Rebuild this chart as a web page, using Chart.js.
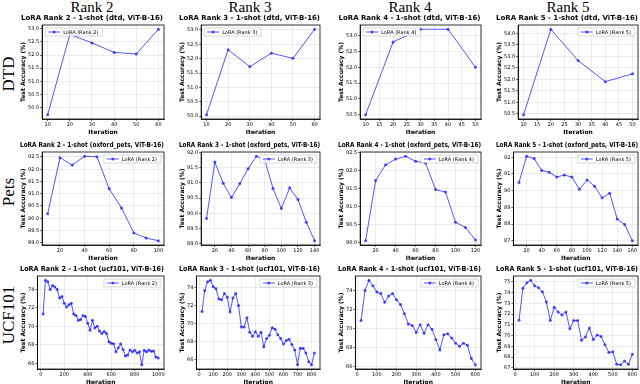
<!DOCTYPE html>
<html><head><meta charset="utf-8">
<script src="https://cdn.jsdelivr.net/npm/chart.js@4/dist/chart.umd.min.js"></script>
<style>
html,body{margin:0;padding:0;background:#fff;}
#wrap{position:relative;width:640px;height:384px;overflow:hidden;background:#fff;}
canvas{position:absolute;}
.colh{position:absolute;top:-1px;font-family:'Liberation Serif',serif;font-size:15px;transform:translateX(-50%);white-space:nowrap;color:#000;}
.rowh{position:absolute;font-family:'Liberation Serif',serif;font-size:17px;transform:translate(-50%,-50%) rotate(-90deg);white-space:nowrap;color:#000;}
</style></head><body><div id="wrap"></div>
<script>
// ---------- DATA ----------
const colHeaders = ['Rank 2','Rank 3','Rank 4','Rank 5'];
const rowHeaders = ['DTD','Pets','UCF101'];

// DTD
const dtdR2Iter = [10,20,30,40,50,60];
const dtdR2Acc  = [49.73,52.79,52.46,52.10,52.04,52.98];
const dtdR3Iter = [10,20,30,40,50,60];
const dtdR3Acc  = [50.05,52.31,51.72,52.19,52.01,53.02];
const dtdR4Iter = [10,20,30,40,50];
const dtdR4Acc  = [50.50,52.80,53.20,53.20,52.00];
const dtdR5Iter = [10,20,30,40,50];
const dtdR5Acc  = [50.46,54.18,52.82,51.90,52.24];

// Oxford Pets
const petsR2Iter = [10,20,30,40,50,60,70,80,90,100];
const petsR2Acc  = [90.18,92.47,92.17,92.53,92.51,91.20,90.42,89.40,89.19,89.08];
const petsR3Iter = [10,20,30,40,50,60,70,80,90,100,110,120,130,140];
const petsR3Acc  = [89.83,91.69,90.99,90.52,90.98,91.47,91.88,91.76,90.82,90.16,90.84,90.46,89.71,89.10];
const petsR4Iter = [10,20,30,40,50,60,70,80,90,100,110,120];
const petsR4Acc  = [90.04,91.72,92.16,92.32,92.40,92.26,92.21,91.47,91.40,90.56,90.41,90.06];
const petsR5Iter = [10,20,30,40,50,60,70,80,90,100,110,120,130,140,150,160];
const petsR5Acc  = [90.49,92.06,91.93,91.21,91.10,90.81,90.94,90.81,90.08,90.64,90.27,89.57,89.85,88.30,87.97,87.00];

// UCF101
const ucfR2Iter = [20,40,60,80,100,120,140,160,180,200,220,240,260,280,300,320,340,360,380,400,420,440,460,480,500,520,540,560,580,600,620,640,660,680,700,720,740,760,780,800,820,840,860,880,900,920,940,960,980,1000];
const ucfR2Acc  = [71.33,75.00,74.83,74.00,74.43,74.27,74.00,73.07,73.23,72.50,72.10,72.33,72.50,71.33,71.17,70.67,70.73,71.17,71.07,70.33,69.57,70.67,69.83,70.00,69.50,69.23,69.43,69.23,68.33,68.17,68.10,67.23,67.67,68.10,67.50,66.77,66.90,67.43,67.23,67.40,67.10,67.23,65.83,67.40,67.23,67.43,67.30,67.33,66.67,66.57];
const ucfR3Iter = [20,40,60,80,100,120,140,160,180,200,220,240,260,280,300,320,340,360,380,400,420,440,460,480,500,520,540,560,580,600,620,640,660,680,700,720,740,760,780,800,820];
const ucfR3Acc  = [71.34,73.66,74.61,74.78,74.07,73.83,72.70,72.63,73.32,72.91,71.27,72.81,73.32,72.00,69.63,69.63,70.66,69.05,68.61,69.12,68.61,69.05,67.45,68.37,68.71,69.56,69.39,68.78,68.37,67.75,68.13,68.27,67.69,67.11,65.47,67.28,67.28,66.76,65.81,65.47,66.76];
const ucfR4Iter = [20,40,60,80,100,120,140,160,180,200,220,240,260,280,300,320,340,360,380,400,420,440,460,480,500,520,540,560,580,600];
const ucfR4Acc  = [70.83,74.00,75.08,74.49,73.84,73.67,72.76,73.41,73.67,73.01,72.52,71.54,70.46,70.30,69.58,70.40,69.48,70.40,69.92,68.84,67.73,69.33,69.44,69.00,68.45,68.12,68.45,68.22,66.82,66.17];
const ucfR5Iter = [20,40,60,80,100,120,140,160,180,200,220,240,260,280,300,320,340,360,380,400,420,440,460,480,500,520,540,560,580,600];
const ucfR5Acc  = [71.43,74.40,74.91,75.14,74.63,74.43,74.06,73.11,71.40,72.63,72.20,71.91,72.20,70.63,71.40,71.40,69.57,69.86,70.71,69.63,70.06,69.91,69.14,68.43,68.49,67.34,67.29,67.63,67.34,68.26];

// tick labels
const yTicksDtdR2 = ['50.0','50.5','51.0','51.5','52.0','52.5','53.0'];
const yTicksDtdR3 = ['50.0','50.5','51.0','51.5','52.0','52.5','53.0'];
const yTicksDtdR4 = ['50.5','51.0','51.5','52.0','52.5','53.0'];
const yTicksDtdR5 = ['50.5','51.0','51.5','52.0','52.5','53.0','53.5','54.0'];
const xTicksDtd6  = ['10','20','30','40','50','60'];
const xTicksDtd5  = ['10','15','20','25','30','35','40','45','50'];
const yTicksPetsR2 = ['89.0','89.5','90.0','90.5','91.0','91.5','92.0','92.5'];
const yTicksPetsR3 = ['89.0','89.5','90.0','90.5','91.0','91.5','92.0'];
const yTicksPetsR4 = ['90.0','90.5','91.0','91.5','92.0','92.5'];
const yTicksPetsR5 = ['87','88','89','90','91','92'];
const xTicksPetsR2 = ['20','40','60','80','100'];
const xTicksPetsR3 = ['20','40','60','80','100','120','140'];
const xTicksPetsR4 = ['20','40','60','80','100','120'];
const xTicksPetsR5 = ['20','40','60','80','100','120','140','160'];
const yTicksUcf   = ['66','68','70','72','74'];
const yTicksUcfR5 = ['67','68','69','70','71','72','73','74','75'];
const xTicksUcfR2 = ['0','200','400','600','800','1000'];
const xTicksUcfR3 = ['0','100','200','300','400','500','600','700','800'];
const xTicksUcfR4 = ['0','100','200','300','400','500','600'];
const xTicksUcfR5 = ['0','100','200','300','400','500','600'];

// ---------- PANELS ----------
const panels = [
  {rank:2,ds:'dtd',iter:dtdR2Iter,acc:dtdR2Acc,yt:yTicksDtdR2,xt:xTicksDtd6,leg:'left'},
  {rank:3,ds:'dtd',iter:dtdR3Iter,acc:dtdR3Acc,yt:yTicksDtdR3,xt:xTicksDtd6,leg:'left'},
  {rank:4,ds:'dtd',iter:dtdR4Iter,acc:dtdR4Acc,yt:yTicksDtdR4,xt:xTicksDtd5,leg:'left'},
  {rank:5,ds:'dtd',iter:dtdR5Iter,acc:dtdR5Acc,yt:yTicksDtdR5,xt:xTicksDtd5,leg:'right'},
  {rank:2,ds:'oxford_pets',iter:petsR2Iter,acc:petsR2Acc,yt:yTicksPetsR2,xt:xTicksPetsR2,leg:'right'},
  {rank:3,ds:'oxford_pets',iter:petsR3Iter,acc:petsR3Acc,yt:yTicksPetsR3,xt:xTicksPetsR3,leg:'right'},
  {rank:4,ds:'oxford_pets',iter:petsR4Iter,acc:petsR4Acc,yt:yTicksPetsR4,xt:xTicksPetsR4,leg:'right'},
  {rank:5,ds:'oxford_pets',iter:petsR5Iter,acc:petsR5Acc,yt:yTicksPetsR5,xt:xTicksPetsR5,leg:'right'},
  {rank:2,ds:'ucf101',iter:ucfR2Iter,acc:ucfR2Acc,yt:yTicksUcf,xt:xTicksUcfR2,leg:'right'},
  {rank:3,ds:'ucf101',iter:ucfR3Iter,acc:ucfR3Acc,yt:yTicksUcf,xt:xTicksUcfR3,leg:'right'},
  {rank:4,ds:'ucf101',iter:ucfR4Iter,acc:ucfR4Acc,yt:yTicksUcf,xt:xTicksUcfR4,leg:'right'},
  {rank:5,ds:'ucf101',iter:ucfR5Iter,acc:ucfR5Acc,yt:yTicksUcfR5,xt:xTicksUcfR5,leg:'right'}
];

const colX = [20, 179, 338, 496];
const colW = [146, 143, 145, 144];
const rowY = [13, 140, 264];
const rowH = [122, 121, 121];
const colCenters = [92, 250, 410, 568];
const rowCenters = [74, 192, 315];
const LINE = 'rgba(20,20,255,0.72)';

const wrap = document.getElementById('wrap');
colHeaders.forEach((t,i)=>{const d=document.createElement('div');d.className='colh';d.style.left=colCenters[i]+'px';d.textContent=t;wrap.appendChild(d);});
rowHeaders.forEach((t,i)=>{const d=document.createElement('div');d.className='rowh';d.style.left='9px';d.style.top=rowCenters[i]+'px';d.textContent=t;wrap.appendChild(d);});

const framePlugin = {
  id:'frameLegend',
  afterDraw(chart, args, opts){
    const ctx = chart.ctx, ca = chart.chartArea;
    ctx.save();
    ctx.strokeStyle = '#000'; ctx.lineWidth = 0.8;
    ctx.strokeRect(ca.left, ca.top, ca.right-ca.left, ca.bottom-ca.top);
    ctx.font = '5px "DejaVu Sans"';
    const txt = opts.text;
    const tw = ctx.measureText(txt).width;
    const w = tw + 22, h = 8;
    const x = opts.side==='left' ? ca.left+3 : ca.right-w-3;
    const y = ca.top+3;
    ctx.fillStyle = 'rgba(255,255,255,0.85)';
    ctx.strokeStyle = 'rgba(0,0,0,0.25)'; ctx.lineWidth = 0.6;
    ctx.beginPath(); ctx.rect(x,y,w,h); ctx.fill(); ctx.stroke();
    ctx.strokeStyle = LINE; ctx.lineWidth = 1;
    ctx.beginPath(); ctx.moveTo(x+3,y+h/2); ctx.lineTo(x+15,y+h/2); ctx.stroke();
    ctx.fillStyle = LINE; ctx.beginPath(); ctx.arc(x+9,y+h/2,1.5,0,Math.PI*2); ctx.fill();
    ctx.fillStyle = '#000'; ctx.textBaseline = 'middle';
    ctx.fillText(txt, x+18, y+h/2+0.3);
    ctx.restore();
  }
};

panels.forEach((p,i)=>{
  const c = i%4, r = Math.floor(i/4);
  const cv = document.createElement('canvas');
  cv.width = colW[c]; cv.height = rowH[r];
  cv.style.left = colX[c]+'px'; cv.style.top = rowY[r]+'px';
  cv.style.width = colW[c]+'px'; cv.style.height = rowH[r]+'px';
  wrap.appendChild(cv);
  const xmin = Math.min(...p.iter), xmax = Math.max(...p.iter);
  const ymin = Math.min(...p.acc), ymax = Math.max(...p.acc);
  const xr = xmax-xmin, yr = ymax-ymin;
  const xMin = xmin-0.05*xr, xMax = xmax+0.05*xr;
  const yMin = ymin-0.05*yr, yMax = ymax+0.05*yr;
  const xtv = p.xt.map(Number).filter(v=>v>=xMin && v<=xMax);
  const ytv = p.yt.map(Number).filter(v=>v>=yMin && v<=yMax);
  const xLab = {}; p.xt.forEach(s=>xLab[Number(s)]=s);
  const yLab = {}; p.yt.forEach(s=>yLab[Number(s)]=s);
  new Chart(cv, {
    type:'line',
    data:{datasets:[{
      label:'LoRA (Rank '+p.rank+')',
      data:p.iter.map((x,k)=>({x:x,y:p.acc[k]})),
      borderColor:LINE, backgroundColor:LINE, borderWidth:1,
      pointRadius:1.5, pointHoverRadius:1.5, pointBorderWidth:0, tension:0
    }]},
    options:{
      responsive:false, animation:false,
      layout:{padding:{left:0,right:2,top:0,bottom:0}},
      plugins:{
        legend:{display:false}, tooltip:{enabled:false},
        title:{display:true, text:'LoRA Rank '+p.rank+' - 1-shot ('+p.ds+', ViT-B-16)', color:'#000',
          font:{family:'DejaVu Sans', size:7, weight:'bold', lineHeight:1}, padding:{top:2,bottom:3}},
        frameLegend:{text:'LoRA (Rank '+p.rank+')', side:p.leg}
      },
      scales:{
        x:{type:'linear', min:xMin, max:xMax,
          afterBuildTicks:s=>{s.ticks = xtv.map(v=>({value:v}));},
          ticks:{font:{family:'DejaVu Sans',size:5,lineHeight:1}, color:'#000', padding:1, maxRotation:0, autoSkip:false,
            callback:v=>xLab[v]!==undefined?xLab[v]:''},
          grid:{color:'rgba(0,0,0,0.12)', tickLength:2, tickColor:'#000', lineWidth:0.6},
          border:{color:'#000', width:0.8},
          title:{display:true, text:'Iteration', color:'#000', font:{family:'DejaVu Sans',size:6,weight:'bold',lineHeight:1}, padding:{top:1,bottom:0}}
        },
        y:{type:'linear', min:yMin, max:yMax,
          afterBuildTicks:s=>{s.ticks = ytv.map(v=>({value:v}));},
          ticks:{font:{family:'DejaVu Sans',size:5,lineHeight:1}, color:'#000', padding:1, autoSkip:false,
            callback:v=>yLab[v]!==undefined?yLab[v]:''},
          grid:{color:'rgba(0,0,0,0.12)', tickLength:2, tickColor:'#000', lineWidth:0.6},
          border:{color:'#000', width:0.8},
          title:{display:true, text:'Test Accuracy (%)', color:'#000', font:{family:'DejaVu Sans',size:6,weight:'bold',lineHeight:1}, padding:{top:0,bottom:1}}
        }
      }
    },
    plugins:[framePlugin]
  });
});
</script></body></html>
